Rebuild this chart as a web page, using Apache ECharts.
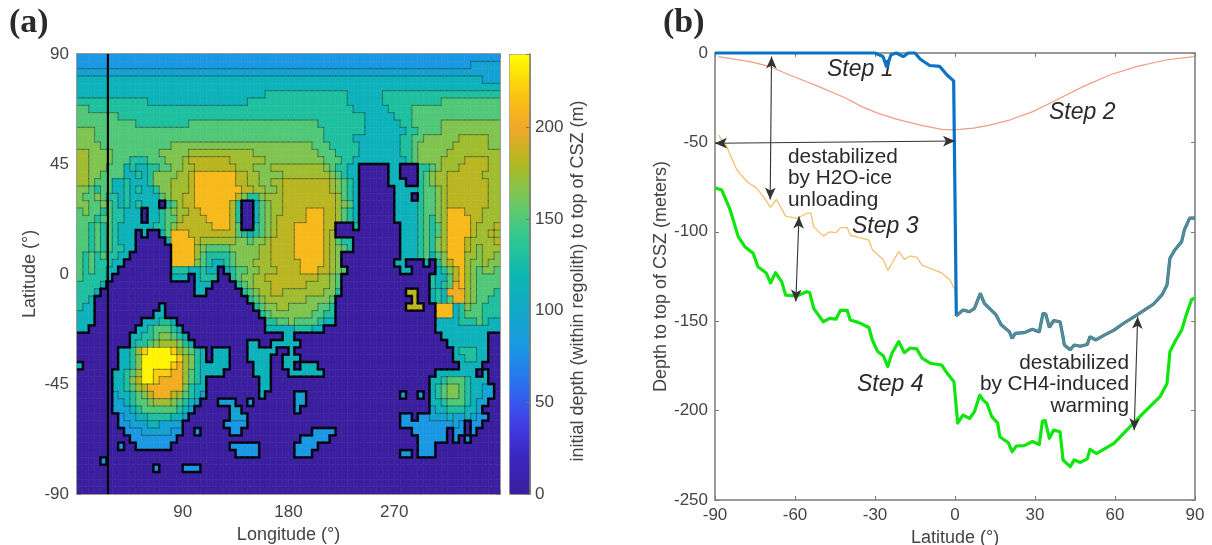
<!DOCTYPE html>
<html>
<head>
<meta charset="utf-8">
<style>html,body{margin:0;padding:0;background:#fff}#c{width:1212px;height:545px}</style>
<script src="https://cdn.jsdelivr.net/npm/echarts@6/dist/echarts.min.js"></script>
</head>
<body>
<div id="c"></div>
<script>
// ---------- panel (a): contour band of each 5 x 3 degree cell, north to south ----------
const Z = "000000000000";
const csZRows = [
"333333333333 333333333333 333333333333 333333333333 333333333333 333333333333",
"333333333333 333333333333 333333333333 333333333333 333333333333 333333344444",
"444444444444 444444444444 444444444444 444444444444 444444444444 444444444444",
"555555555555 555555555555 555555555555 555555555555 555555555555 555555555444",
"555555555555 555555555555 555555555555 555555555555 555555555555 555555555555",
"555555555555 555555555555 555555556666 666666666655 555566666666 666666666666",
"666666666666 555555555555 555556666666 666666666655 555566666666 667777777777",
"776666666666 666666666666 666666666666 666666666665 555556666777 777777777777",
"777777766666 666666666666 666666666666 666666666666 655555666777 777777777777",
"777777777766 666666677777 777777777777 777776666666 655555566777 778888888888",
"888777777777 777777777777 777777777777 777777666666 655555556677 778888888888",
"888777777777 777777777777 777777777777 777777666665 555555566778 888889999988",
"888877777777 777788888888 888888888888 888877766666 555555566788 888899999988",
"998888777777 778888899999 999999888888 888887776666 555555566788 888999999999",
"998888777666 7778889AAAAA AA9999998888 888888777665 555555556788 889999AAAA99",
"998887775655 66778899AAAA AAA999888999 999999876655 000005500066 78999AAAAA99",
"998877775565 6888899ABBBB BBBAA9988889 999999987655 000005500067 899AAAAAA999",
"998777556555 6888999ABBBB BBBAA998899A AAAAAAA98765 000005550067 899AAAAAAA99",
"887677556565 5688999ABBBB BBBBAA99889A AAAAAAA98765 000000555567 789AAAAAAA99",
"877876656555 557899AABBBB BBBA8668999A AAAAAAAA9765 000000555067 789AAAAAAA99",
"887787656565 550679AABBBB BBA60057899A AAAAAAAA9875 000000555567 789AAAAAAA99",
"787767665550 5567899AABBB BBA60057899A AAABBBAA9765 000000555567 789BBBAAA999",
"777677665550 556779AAAABB BBA6005789AA AAABBBAA9765 000000555567 689BBBBAA999",
"776767655555 56678AAAAAAB BBA7006789AA ABBBBBAA0006 000000055567 679BBBBA999A",
"776767655505 0057BBBAAAAA AAA7656789AA ABBBBBA90000 000000055567 679BBBBA99A9",
"776767655500 0005BBBBA999 999887889AAA ABBBBBA97660 000000055567 689BBBA9999A",
"776767665500 0000BBBB9877 778888899AAA ABBBBBA98760 000000055567 689BBBA98999",
"767676655000 0000BBBB9766 667888899AAA ABBBBBA98000 000000055567 578BBB998998",
"767666550000 0000BBBB8765 567888999AAA AABBBBA98000 000000550005 068ABB988988",
"767665500000 000066655655 0567788999AA AABBBAA98700 000000055000 0568AB987887",
"766665000000 000055505666 00678899AAAA AAAAA9987000 000000000000 6557AB987777",
"666650000000 000000005550 000678999AAA AAA999987000 000000000000 6567CB987777",
"666500000000 000000005500 000067899AA9 999999886000 00000000AA00 565CCC987776",
"665000000000 000000000000 000006789999 999888870000 000000000A00 5657CC987766",
"655000000000 005000000000 000000678899 888887760000 00000000AAA0 0BBB56877666",
"555000000000 055000000000 000000067888 888877660000 000000000000 0BBB56777666",
"555000000005 556650000000 000000006677 877776550000 000000000000 055556667655",
"550000000055 677765000000 000000005555 566655000000 000000000000 055555555555",
"000000000556 678876500000 000000000005 500000000000 000000000000 005555555500",
"000000000566 789998650000 000005500555 550000000000 000000000000 000555555500",
"00000005569D EEEED9876505 550005555500 500000000000 000000000000 000056665500",
"00000005568E EEEEED986505 550005555005 550000000000 000000000000 000055665500",
"50000005568E EEEEDC986555 550000555005 505550000000 000000000000 000005555000",
"00000055679E EDDDCC976555 500000555000 555555000000 000000000000 055555550500",
"0000005568AE EDCCCC976500 000000055000 000000000000 000000000000 556777655500",
"00000055679A CCCCCC865500 000000055000 000000000000 000000000000 567887655440",
"000000455678 ACCCA9765400 000000050000 044000000000 000000040040 567887655440",
"000000445677 899987654000 444004000000 044000000000 000000000000 556777654400",
"000000444567 777776540000 004400000000 040000000000 000000000000 455666554000",
"000000034455 666655400000 004440000000 000000000000 000000033033 444544543300",
"000000033444 554444000000 033330000000 000000000000 000000033333 333343033000",
"000000003334 444433003000 003300000000 000033330000 000000000333 333033030000",
"000000000333 333330000000 000000000000 003333300000 000000000033 333030300000",
"000000030033 333300000000 003333300000 033330000000 000000000033 300000000000",
"000000000000 000000000000 000333300000 033300000000 000000033033 300000000000",
"000030000000 000000000000 000000000000 000000000000 000000000000 000000000000",
"000000000000 030000333000 000000000000 000000000000 000000000000 000000000000",
Z+" "+Z+" "+Z+" "+Z+" "+Z+" "+Z,
Z+" "+Z+" "+Z+" "+Z+" "+Z+" "+Z,
Z+" "+Z+" "+Z+" "+Z+" "+Z+" "+Z
];
const bandDepths = {"0":0,"1":20,"2":40,"3":80,"4":92,"5":112,"6":130,"7":150,"8":165,"9":175,"A":183,"B":211,"C":204,"D":222,"E":236};
const depthColors = ["#3a1f9e","#3b25c0","#4040e8","#2a70ee","#1a98e4","#10a8c8","#0db8b0","#30c890","#70c860","#b0b820","#f0a828","#fcc810","#ffff00"];
const mapLonTicks = [90,180,270];
const sectionLon = 26.3;

// ---------- panel (b): depth to top of CSZ ----------
const step1SouthLat = [-90,-32,-30,-27,-25.6,-24,-22,-19.4,-17.5,-15,-13,-9.5,-5.7,-3,-0.5,0.5];
const step1SouthDepth = [0,0,0,-2,-8,-1,0,-2,0,0,-3.5,-7,-7.5,-12.3,-15.6,-147];
const northLat = [0.6,3,5.4,7.3,9.5,11,13.5,15.4,17.3,20.4,21.4,22.6,26,29,31.6,33,34,35.4,37,39.4,40.5,41,43.2,44.7,47,49.6,50.6,52.8,56,59.6,63.4,68.3,74.5,77.6,79.5,80.6,82.5,85,86,88,90];
const northDepth = [-147,-143.7,-144.7,-142.8,-134.4,-140,-143.7,-146.5,-152,-155.9,-159.6,-156.8,-156.4,-154.5,-156,-145.6,-146,-153.5,-149.7,-150.3,-158.7,-163.3,-166,-163.3,-164,-163,-158.7,-160.5,-157.8,-155,-151,-146.5,-140.4,-135.3,-129.8,-114.8,-110,-105.5,-99,-92.3,-92.3];
const step2Lat = [-88.8,-76.9,-70,-62,-51,-41,-35,-29,-22,-13,-5,-1.5,1.9,7,13,20.5,29.2,38,48,58,68,79,89.5];
const step2Depth = [-2,-4.8,-7.3,-12.3,-18.8,-25.2,-30,-33.6,-37,-40.3,-42.7,-43,-42.7,-42,-40.3,-37.5,-32.8,-26.3,-18.8,-12.3,-7.6,-3.9,-2];
const step3Lat = [-88.7,-85.6,-81.8,-78,-74.3,-71,-69.2,-67,-63.5,-59.3,-55.5,-54,-53,-49.4,-47,-44.6,-43,-40.4,-39.3,-32.3,-31,-26.8,-25.2,-23.6,-21.1,-19,-16.8,-14.3,-12.4,-9.3,-5,-1.9,0,0.6];
const step3Depth = [-45.9,-52.4,-65.4,-72,-75.7,-82.2,-86.3,-81.9,-91.2,-92.5,-89.6,-89.6,-97.1,-102.4,-100,-100.5,-97.7,-97.7,-101.8,-104.6,-110,-115.8,-121.7,-117.6,-111,-115.4,-113.5,-114.3,-118.6,-120.4,-123,-127,-132.5,-147];
const step4Lat = [-90,-87.5,-84.3,-81.3,-78.8,-75.7,-73.9,-70.8,-69.2,-67.3,-65,-63.5,-59.5,-55.6,-54.5,-53,-49.4,-47,-44.6,-43,-40.4,-39.3,-36,-32.3,-31,-29,-26.8,-25.2,-23.6,-21.1,-19,-16.8,-14.3,-12.4,-9.3,-5,-3,-0.4,1,3,5.5,7.3,9.3,10.5,12,13.8,16,16.8,20,21.4,23,26,29,31.6,32.8,33.8,35.4,37,39.4,40.5,43.2,44.7,47,49.6,50.6,53,59.6,70.5,77,79.5,80.6,82.8,85,86.7,88.7,90];
const step4Depth = [-75.3,-76.6,-87.8,-102.7,-108.3,-112,-119.5,-123,-128.6,-122.9,-127.9,-135.4,-135.9,-133.5,-134,-142.8,-150.3,-148.4,-148.8,-144,-144,-149.3,-150.8,-153.5,-160.5,-167,-169.5,-175.4,-167.8,-161.4,-167.6,-165,-165.5,-170.6,-173.5,-174.5,-179,-183.8,-207,-202.5,-204.4,-200.6,-191.3,-194,-196,-203.4,-207,-214.6,-218,-223,-219.8,-219.6,-217.3,-219,-206,-205.5,-215.5,-210.9,-211.8,-227.6,-231.3,-227.6,-229,-227,-221.7,-224,-218.3,-201.5,-192,-184.8,-167,-160.5,-155,-146.5,-138,-137];
const arrowEnds = [
  [[-68.8,-2],[-69.3,-82]],
  [[-90,-50.5],[0,-49.2]],
  [[-58.5,-91.5],[-59.7,-139]],
  [[68.5,-147.5],[67.2,-211]]
];
const latTicks = [-90,-60,-30,0,30,60,90];
const depthTicks = [0,-50,-100,-150,-200,-250];

// ---------- derived from the tables above ----------
const grid = csZRows.map(r => r.replace(/ /g,''));
const nRows = grid.length, nCols = 72, dLon = 360/nCols, dLat = 180/nRows;
const cells = [], segs = [];
for (let j=0;j<nRows;j++){
  for (let i=0;i<nCols;i++){
    const ch = grid[j][i] || '0';
    const lonW = i*dLon, latN = 90-j*dLat;
    cells.push([lonW+dLon/2, latN-dLat/2, bandDepths[ch]]);
    const e = grid[j][i+1], s = grid[j+1] ? grid[j+1][i] : undefined;
    if (e!==undefined && e!==ch) segs.push([lonW+dLon,latN,lonW+dLon,latN-dLat,(e==='0'||ch==='0')?1:0]);
    if (s!==undefined && s!==ch) segs.push([lonW,latN-dLat,lonW+dLon,latN-dLat,(s==='0'||ch==='0')?1:0]);
  }
}
const zip = (a,b) => a.map((v,i)=>[v,b[i]]);
const FONT = '"Liberation Sans", Arial, sans-serif';
const GREY = '#7a7a7a', TXT = '#444';
const axisBase = {axisLine:{onZero:false,lineStyle:{color:GREY,width:1.5}},axisTick:{inside:true,length:4,lineStyle:{color:GREY,width:1}},splitLine:{show:false},
  axisLabel:{color:TXT,fontFamily:FONT,fontSize:17},nameTextStyle:{color:TXT,fontFamily:FONT,fontSize:18}};
const mirror = {axisLabel:{show:false}};
const txt = (text,x,y,font,align,extra) => Object.assign({type:'text',x,y,silent:true,style:{text,font,fill:'#2a2a2a',textAlign:align||'left',textVerticalAlign:'middle'}},extra||{});

const chart = echarts.init(document.getElementById('c'),null,{renderer:'canvas'});
chart.setOption({
  animation:false,
  backgroundColor:'#fff',
  grid:[
    {left:77,top:54,width:423,height:440,outerBoundsMode:'none'},
    {left:509,top:54,width:21,height:440,outerBoundsMode:'none'},
    {left:715,top:53,width:480,height:447,outerBoundsMode:'none'}
  ],
  xAxis:[
    Object.assign({},axisBase,{gridIndex:0,type:'value',min:0,max:360,interval:90,name:'Longitude (°)',nameLocation:'middle',nameGap:31,
      axisLabel:Object.assign({},axisBase.axisLabel,{margin:10,formatter:v=>mapLonTicks.includes(v)?String(v):''})}),
    Object.assign({},axisBase,mirror,{gridIndex:0,type:'value',position:'top',min:0,max:360,interval:90}),
    {gridIndex:1,type:'value',min:0,max:1,show:false},
    Object.assign({},axisBase,{gridIndex:2,type:'value',min:-90,max:90,interval:30,name:'Latitude (°)',nameLocation:'middle',nameGap:24,
      axisLabel:Object.assign({},axisBase.axisLabel,{margin:7,formatter:v=>latTicks.includes(v)?String(v):''})}),
    Object.assign({},axisBase,mirror,{gridIndex:2,type:'value',position:'top',min:-90,max:90,interval:30})
  ],
  yAxis:[
    Object.assign({},axisBase,{gridIndex:0,type:'value',min:-90,max:90,interval:45,name:'Latitude (°)',nameLocation:'middle',nameGap:38,nameRotate:90}),
    Object.assign({},axisBase,mirror,{gridIndex:0,type:'value',position:'right',min:-90,max:90,interval:45}),
    Object.assign({},axisBase,{gridIndex:1,type:'value',position:'right',min:0,max:240,interval:50,z:10,
      axisLabel:Object.assign({},axisBase.axisLabel,{margin:5,formatter:v=>v<=200?String(v):''}),
      name:'initial depth (within regolith) to top of CSZ (m)',nameLocation:'middle',nameGap:39,nameRotate:90,
      nameTextStyle:{color:TXT,fontFamily:FONT,fontSize:18,padding:[0,14,0,0]}}),
    Object.assign({},axisBase,{gridIndex:2,type:'value',min:-250,max:0,interval:50,name:'Depth to top of CSZ (meters)',nameLocation:'middle',nameGap:39,nameRotate:90,
      axisLabel:Object.assign({},axisBase.axisLabel,{margin:7,formatter:v=>depthTicks.includes(v)?String(v):''})}),
    Object.assign({},axisBase,mirror,{gridIndex:2,type:'value',position:'right',min:-250,max:0,interval:50})
  ],
  visualMap:{type:'continuous',seriesIndex:0,dimension:2,min:0,max:240,left:509,top:54,itemWidth:21,itemHeight:440,
    calculable:false,realtime:false,hoverLink:false,text:['',''],showLabel:false,textStyle:{fontSize:0},
    inRange:{color:depthColors},borderColor:'#999',borderWidth:1,padding:0},
  series:[
    {type:'custom',name:'CSZ depth',xAxisIndex:0,yAxisIndex:0,data:cells,encode:{x:0,y:1},progressive:0,silent:true,clip:true,
      renderItem:(p,api)=>{
        const lon=api.value(0),lat=api.value(1);
        const a=api.coord([lon-dLon/2,lat+dLat/2]),b=api.coord([lon+dLon/2,lat-dLat/2]);
        const c=api.visual('color');
        return {type:'rect',shape:{x:a[0],y:a[1],width:b[0]-a[0],height:b[1]-a[1]},style:{fill:c,stroke:c,lineWidth:0.6}};
      }},
    {type:'custom',name:'contours',xAxisIndex:0,yAxisIndex:0,data:segs,encode:{x:0,y:1},progressive:0,silent:true,clip:true,z:3,
      renderItem:(p,api)=>{
        const a=api.coord([api.value(0),api.value(1)]),b=api.coord([api.value(2),api.value(3)]);
        const k=api.value(4);
        return {type:'line',shape:{x1:a[0],y1:a[1],x2:b[0],y2:b[1]},style:{stroke:k?'#050510':'rgba(25,45,40,0.6)',lineWidth:k?2.4:0.8,lineCap:'round'}};
      }},
    {type:'line',name:'section',xAxisIndex:0,yAxisIndex:0,data:[[sectionLon,90],[sectionLon,-90]],symbol:'none',silent:true,z:4,lineStyle:{color:'#000',width:2.2}},
    {type:'line',name:'Step 2',xAxisIndex:3,yAxisIndex:3,data:zip(step2Lat,step2Depth),symbol:'none',silent:true,clip:false,lineStyle:{color:'#ec9f85',width:1.2}},
    {type:'line',name:'Step 3',xAxisIndex:3,yAxisIndex:3,data:zip(step3Lat,step3Depth),symbol:'none',silent:true,clip:false,lineStyle:{color:'#f2c26e',width:1.3}},
    {type:'line',name:'Step 4',xAxisIndex:3,yAxisIndex:3,data:zip(step4Lat,step4Depth),symbol:'none',silent:true,clip:false,lineStyle:{color:'#0ee60e',width:3.2,join:'round'}},
    {type:'line',name:'Step 1',xAxisIndex:3,yAxisIndex:3,data:zip(step1SouthLat,step1SouthDepth).concat(zip(northLat,northDepth)),symbol:'none',silent:true,clip:false,
      lineStyle:{color:'#0b72c6',width:3.2},z:3},
    {type:'line',name:'Step 3 north',xAxisIndex:3,yAxisIndex:3,data:zip(northLat,northDepth),symbol:'none',silent:true,clip:false,lineStyle:{color:'#5f8a86',width:2.4},z:4,
      markLine:{silent:true,symbol:['arrow','arrow'],symbolSize:[8,12],label:{show:false},animation:false,
        lineStyle:{color:'#333',width:1.1,type:'solid'},
        data:arrowEnds.map(e=>[{coord:e[0]},{coord:e[1]}])}}
  ],
  graphic:[
    txt('(a)',9,23,'bold 34px "Liberation Serif", serif'),
    txt('(b)',663,23,'bold 34px "Liberation Serif", serif'),
    txt('Step 1',827,70,'italic 23px '+FONT),
    txt('Step 2',1049,113,'italic 23px '+FONT),
    txt('Step 3',852,227,'italic 23px '+FONT),
    txt('Step 4',857,385,'italic 23px '+FONT),
    txt('destabilized',788,157,'20.8px '+FONT),
    txt('by H2O-ice',788,178,'20.8px '+FONT),
    txt('unloading',788,200,'20.8px '+FONT),
    txt('destabilized',1129,363,'20.8px '+FONT,'right'),
    txt('by CH4-induced',1129,384,'20.8px '+FONT,'right'),
    txt('warming',1129,406,'20.8px '+FONT,'right')
  ]
});
</script>
</body>
</html>
